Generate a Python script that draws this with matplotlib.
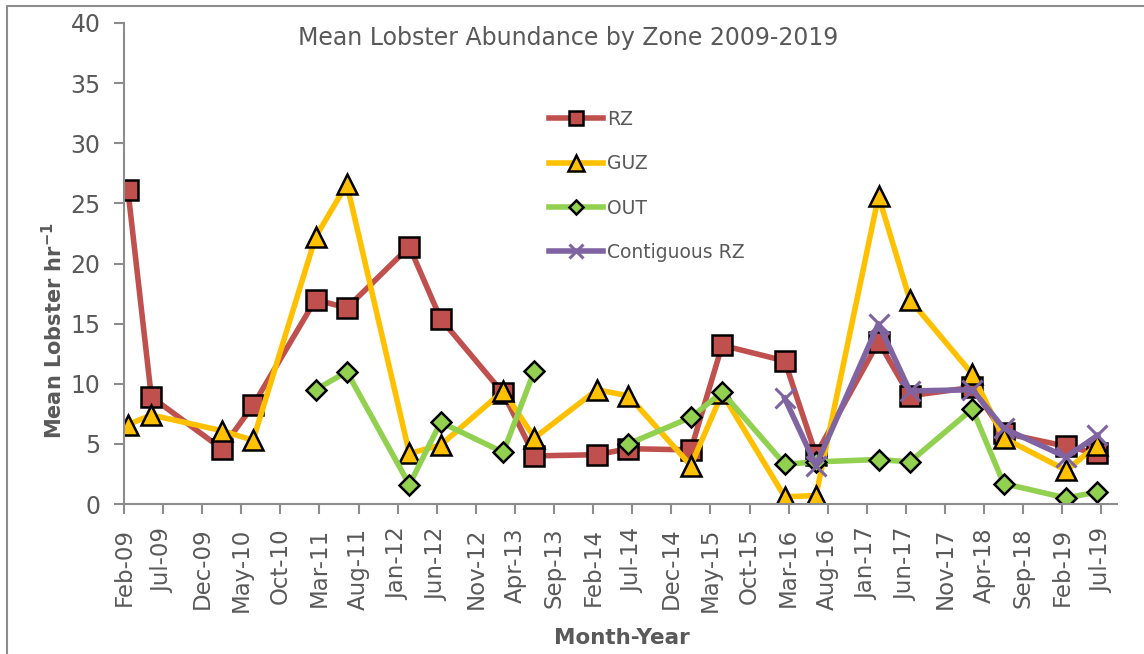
import pandas as pd
import numpy as np
import matplotlib
matplotlib.use('Agg')
import matplotlib.pyplot as plt
from matplotlib.lines import Line2D

plt.rcParams['font.family'] = ['DejaVu Sans']
plt.rcParams['mathtext.fontset'] = 'dejavusans'

# sampling dates and series values (mean lobsters per hour)
dates = ['Feb-09', 'May-09', 'Feb-10', 'Jun-10', 'Feb-11', 'Jun-11', 'Feb-12', 'Jun-12',
         'Feb-13', 'Jun-13', 'Feb-14', 'Jun-14', 'Feb-15', 'Jun-15', 'Feb-16', 'Jun-16',
         'Feb-17', 'Jun-17', 'Feb-18', 'Jun-18', 'Feb-19', 'Jun-19']
rz = [26.1, 8.9, 4.6, 8.2, 17.0, 16.3, 21.4, 15.4, 9.2, 4.0, 4.1, 4.6,
      4.5, 13.2, 11.9, 4.1, 13.5, 9.0, 9.7, 5.9, 4.8, 4.2]
guz = [6.6, 7.4, 6.1, 5.3, 22.2, 26.6, 4.2, 4.9, 9.4, 5.5, 9.5, 9.0,
       3.2, 9.2, 0.6, 0.7, 25.6, 17.0, 10.8, 5.5, 2.8, 4.9]
out = [np.nan, np.nan, np.nan, np.nan, 9.5, 11.0, 1.6, 6.8, 4.3, 11.1, np.nan, 5.0,
       7.2, 9.3, 3.3, 3.5, 3.7, 3.5, 7.9, 1.7, 0.5, 1.0]
contig = [np.nan] * 14 + [8.8, 3.2, 15.0, 9.4, 9.5, 6.3, 3.9, 5.7]

tick_labels = ['Feb-09', 'Jul-09', 'Dec-09', 'May-10', 'Oct-10', 'Mar-11', 'Aug-11',
               'Jan-12', 'Jun-12', 'Nov-12', 'Apr-13', 'Sep-13', 'Feb-14', 'Jul-14',
               'Dec-14', 'May-15', 'Oct-15', 'Mar-16', 'Aug-16', 'Jan-17', 'Jun-17',
               'Nov-17', 'Apr-18', 'Sep-18', 'Feb-19', 'Jul-19']

# month index from Feb-09, points sit in the middle of their month
d = pd.to_datetime(dates, format='%b-%y')
x = (d.year - 2009) * 12 + (d.month - 2) + 0.5
tick_d = pd.to_datetime(tick_labels, format='%b-%y')
tick_x = (tick_d.year - 2009) * 12 + (tick_d.month - 2)

grey = '#595959'
W, H = 1144, 654
fig = plt.figure(figsize=(W / 100, H / 100), dpi=100)
ax = fig.add_axes([124 / W, (H - 504) / H, (1117 - 124) / W, (504 - 23) / H])

ax.plot(x, rz, color='#C0504D', lw=4, marker='s', ms=14, mfc='#C0504D',
        mec='black', mew=1.8, label='RZ')
ax.plot(x, guz, color='#FFC000', lw=4, marker='^', ms=14.5, mfc='#FFC000',
        mec='black', mew=1.8, label='GUZ')
ax.plot(x, out, color='#92D050', lw=4, marker='D', ms=10, mfc='#92D050',
        mec='black', mew=1.8, label='OUT')
ax.plot(x, contig, color='#8064A2', lw=4, marker='x', ms=14, mec='#8064A2',
        mew=2.2, label='Contiguous RZ')

ax.set_xlim(0, 127)
ax.set_ylim(0, 40)
ax.set_yticks(range(0, 41, 5))
ax.set_xticks(tick_x)
ax.set_xticklabels(tick_labels, rotation=90)

for s in ['top', 'right']:
    ax.spines[s].set_visible(False)
for s in ['left', 'bottom']:
    ax.spines[s].set_color('#8c8c8c')
    ax.spines[s].set_linewidth(1.5)
ax.tick_params(axis='both', direction='out', length=7, width=1.5, color='#8c8c8c',
               labelcolor=grey)
ax.tick_params(axis='y', labelsize=17, pad=10)
ax.tick_params(axis='x', labelsize=16.5, pad=10)

fig.text(568 / W, 1 - 38 / H, 'Mean Lobster Abundance by Zone 2009-2019',
         ha='center', va='center', fontsize=17, color=grey)
fig.text(54 / W, 1 - 331 / H, r'Mean Lobster hr$^{\mathbf{-1}}$', rotation=90,
         ha='center', va='center', fontsize=15, fontweight='bold', color=grey)
fig.text(622 / W, 1 - 638 / H, 'Month-Year', ha='center', va='center',
         fontsize=15.5, fontweight='bold', color=grey)

leg = ax.legend(loc='upper left', bbox_to_anchor=(532 / W, 1 - 93 / H),
                bbox_transform=fig.transFigure, frameon=False, fontsize=13.5,
                handlelength=2.9, handletextpad=0.2, labelspacing=1.35,
                markerscale=0.75)
for t in leg.get_texts():
    t.set_color(grey)

# outer chart border
fig.add_artist(Line2D([7 / W, 7 / W, 1.0], [0.0, 1 - 6 / H, 1 - 6 / H],
                      transform=fig.transFigure, color='#8c8c8c', lw=1.5))

fig.savefig('out.png', dpi=100)
